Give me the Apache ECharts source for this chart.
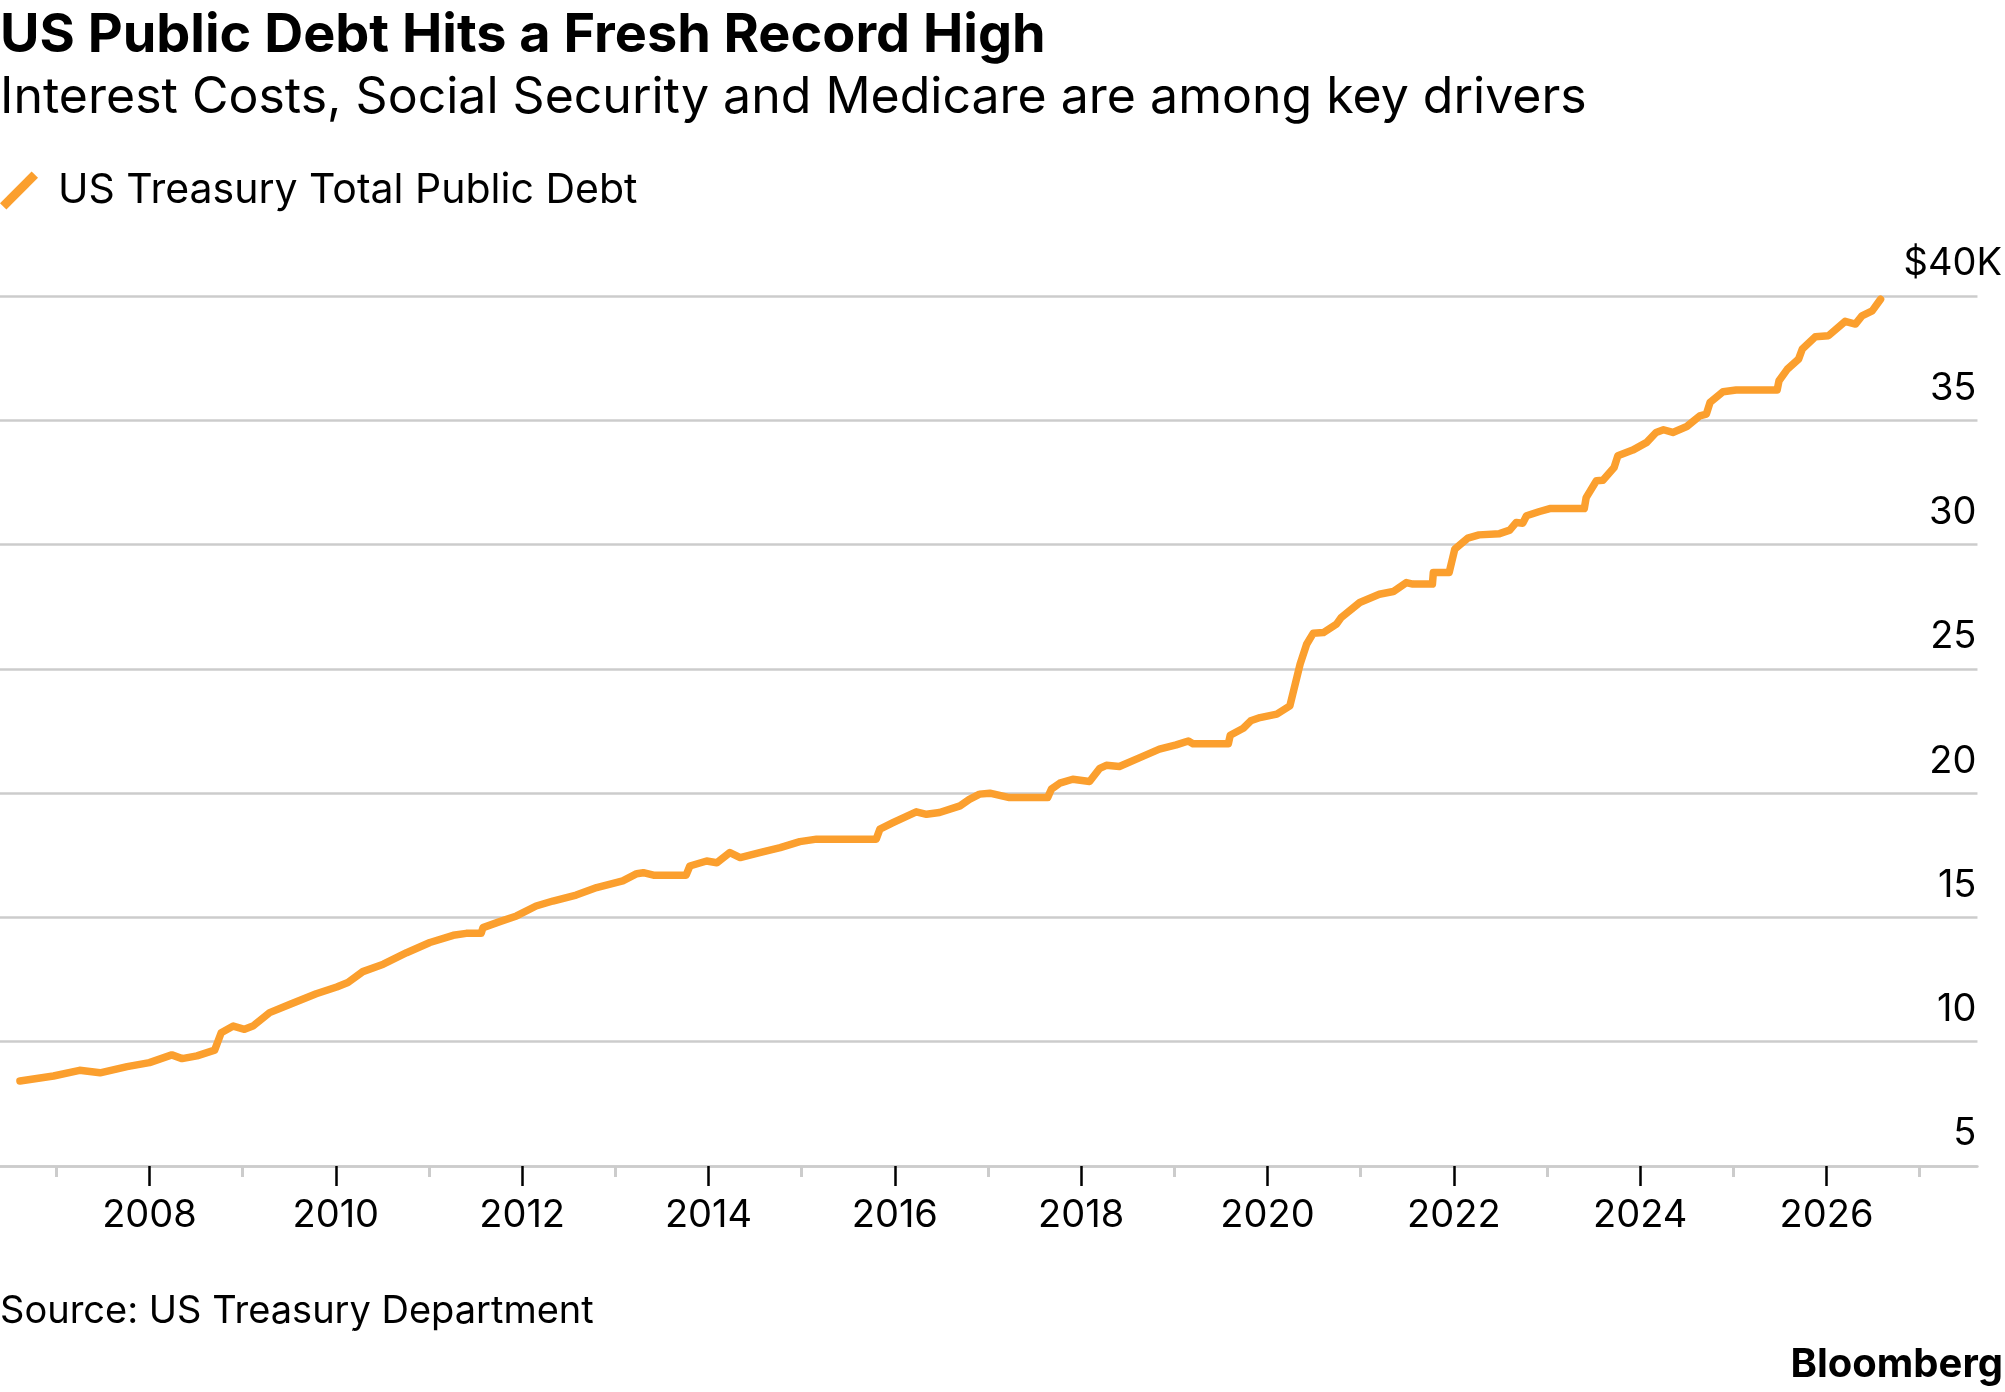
<!DOCTYPE html>
<html>
<head>
<meta charset="utf-8">
<script src="https://cdn.jsdelivr.net/npm/echarts@6/dist/echarts.min.js"></script>
<style>
html,body{margin:0;padding:0;background:#fff;}
#chart{width:2005px;height:1392px;}
</style>
</head>
<body>
<div id="chart"></div>
<script>
// ---- data ----
const years = [
  2006.61, 2006.97, 2007.25, 2007.47, 2007.76, 2008.00, 2008.24, 2008.35, 2008.51, 2008.70,
  2008.77, 2008.90, 2009.02, 2009.11, 2009.29, 2009.51, 2009.79, 2010.01, 2010.13, 2010.29,
  2010.51, 2010.76, 2011.01, 2011.26, 2011.40, 2011.56, 2011.58, 2011.76, 2011.94, 2012.15,
  2012.33, 2012.58, 2012.80, 2013.08, 2013.23, 2013.30, 2013.41, 2013.76, 2013.80, 2013.98,
  2014.09, 2014.23, 2014.34, 2014.55, 2014.77, 2014.98, 2015.16, 2015.80, 2015.84, 2015.98,
  2016.23, 2016.34, 2016.48, 2016.70, 2016.80, 2016.91, 2017.02, 2017.23, 2017.64, 2017.68,
  2017.77, 2017.91, 2018.09, 2018.20, 2018.27, 2018.41, 2018.63, 2018.84, 2019.02, 2019.15,
  2019.20, 2019.58, 2019.60, 2019.74, 2019.82, 2019.92, 2020.10, 2020.24, 2020.35, 2020.42,
  2020.49, 2020.60, 2020.74, 2020.79, 2020.99, 2021.20, 2021.35, 2021.49, 2021.56, 2021.77,
  2021.78, 2021.95, 2022.01, 2022.15, 2022.27, 2022.49, 2022.60, 2022.67, 2022.74, 2022.78,
  2022.92, 2023.03, 2023.40, 2023.42, 2023.53, 2023.60, 2023.72, 2023.76, 2023.92, 2024.07,
  2024.17, 2024.25, 2024.35, 2024.50, 2024.64, 2024.71, 2024.75, 2024.89, 2025.03, 2025.47,
  2025.49, 2025.58, 2025.70, 2025.74, 2025.88, 2026.02, 2026.20, 2026.31, 2026.38, 2026.49,
  2026.58
];
const debt = [
  8.42, 8.62, 8.85, 8.75, 9.00, 9.16, 9.47, 9.32, 9.43, 9.66,
  10.36, 10.63, 10.50, 10.63, 11.17, 11.51, 11.93, 12.20, 12.38, 12.82,
  13.12, 13.58, 13.99, 14.28, 14.36, 14.36, 14.59, 14.83, 15.06, 15.46,
  15.66, 15.90, 16.20, 16.47, 16.76, 16.80, 16.70, 16.70, 17.07, 17.27,
  17.20, 17.61, 17.41, 17.61, 17.81, 18.05, 18.15, 18.15, 18.55, 18.81,
  19.25, 19.15, 19.22, 19.49, 19.75, 19.96, 20.00, 19.82, 19.82, 20.16,
  20.40, 20.56, 20.47, 21.00, 21.12, 21.07, 21.43, 21.77, 21.94, 22.10,
  21.99, 21.99, 22.33, 22.61, 22.91, 23.04, 23.18, 23.51, 25.19, 25.99,
  26.43, 26.46, 26.80, 27.06, 27.67, 28.00, 28.11, 28.47, 28.41, 28.41,
  28.88, 28.88, 29.82, 30.26, 30.39, 30.44, 30.58, 30.89, 30.86, 31.16,
  31.33, 31.45, 31.45, 31.89, 32.57, 32.59, 33.10, 33.57, 33.80, 34.11,
  34.51, 34.62, 34.51, 34.75, 35.18, 35.25, 35.72, 36.15, 36.22, 36.22,
  36.59, 37.06, 37.46, 37.87, 38.36, 38.40, 38.98, 38.87, 39.20, 39.40,
  39.87
];
const majorYears = [2008, 2010, 2012, 2014, 2016, 2018, 2020, 2022, 2024, 2026];
const minorYears = [2007, 2009, 2011, 2013, 2015, 2017, 2019, 2021, 2023, 2025, 2027];
const yMin = 5, yMax = 40, yStep = 5;
const xMin = 2006.396, xMax = 2027.62;

const seriesName = 'US Treasury Total Public Debt';
const titleText = 'US Public Debt Hits a Fresh Record High';
const subtitleText = 'Interest Costs, Social Security and Medicare are among key drivers';
const sourceText = 'Source: US Treasury Department';
const brandText = 'Bloomberg';

// ---- chart ----
const FONT = 'Inter';
const ORANGE = '#fb9f2e';
const GRID_GRAY = '#cccccc';
const AXIS_FS = 38;

const chart = echarts.init(document.getElementById('chart'), null, {renderer: 'canvas'});
const seriesData = years.map((y, i) => [y, debt[i]]);

chart.setOption({
  animation: false,
  backgroundColor: '#ffffff',
  grid: {left: 0, right: 27, top: 296, bottom: 226, containLabel: false},
  legend: {
    data: [seriesName],
    left: 0,
    top: 170,
    padding: 0,
    icon: 'path://M0,31.8 L6.4,38.2 L38.2,6.4 L31.8,0 Z',
    itemWidth: 38,
    itemHeight: 38,
    selectedMode: false,
    textStyle: {fontFamily: FONT, fontSize: 41, color: '#000', padding: [0, 0, 0, 15]}
  },
  xAxis: [
    {
      type: 'value', min: xMin, max: xMax, position: 'bottom',
      axisLine: {show: true, onZero: false, lineStyle: {color: GRID_GRAY, width: 2.5}},
      axisTick: {show: true, customValues: majorYears, length: 20, lineStyle: {color: '#000', width: 2.5}},
      axisLabel: {
        show: true, customValues: majorYears, margin: 31,
        fontFamily: FONT, fontSize: AXIS_FS, color: '#000',
        formatter: v => String(Math.round(v))
      },
      splitLine: {show: false}
    },
    {
      type: 'value', min: xMin, max: xMax, position: 'bottom',
      axisLine: {show: false, onZero: false},
      axisTick: {show: true, customValues: minorYears, length: 11, lineStyle: {color: GRID_GRAY, width: 3}},
      axisLabel: {show: false},
      splitLine: {show: false}
    }
  ],
  yAxis: {
    type: 'value', min: yMin, max: yMax, interval: yStep, position: 'right',
    axisLine: {show: false},
    axisTick: {show: false},
    splitLine: {show: true, lineStyle: {color: GRID_GRAY, width: 2.5}},
    axisLabel: {
      inside: true, margin: 1, align: 'right', verticalAlign: 'bottom',
      fontFamily: FONT, fontSize: AXIS_FS, color: '#000', lineHeight: AXIS_FS,
      padding: [0, 0, 13, 0],
      formatter: v => (v === yMax ? '{a|$' + v + '}{k|K}' : String(v)),
      rich: {
        a: {align: 'left', fontFamily: FONT, fontSize: AXIS_FS, color: '#000', lineHeight: AXIS_FS},
        k: {width: 0, align: 'left', fontFamily: FONT, fontSize: AXIS_FS, color: '#000', lineHeight: AXIS_FS}
      }
    }
  },
  graphic: [
    {type: 'text', x: 0, y: 36, style: {text: titleText, font: 'bold 54px Inter', fill: '#000', align: 'left', verticalAlign: 'middle'}},
    {type: 'text', x: 0, y: 98, style: {text: subtitleText, font: '50px Inter', fill: '#000', align: 'left', verticalAlign: 'middle'}},
    {type: 'text', x: 0, y: 1312, style: {text: sourceText, font: '38px Inter', fill: '#000', align: 'left', verticalAlign: 'middle'}},
    {type: 'text', x: 2003, y: 1365, style: {text: brandText, font: 'bold 40px Inter', fill: '#000', align: 'right', verticalAlign: 'middle'}}
  ],
  series: [{
    name: seriesName,
    type: 'line',
    xAxisIndex: 0,
    data: seriesData,
    showSymbol: false,
    symbol: 'none',
    itemStyle: {color: ORANGE},
    lineStyle: {color: ORANGE, width: 7.5, cap: 'round', join: 'round'},
    emphasis: {disabled: true}
  }]
});
</script>
</body>
</html>
